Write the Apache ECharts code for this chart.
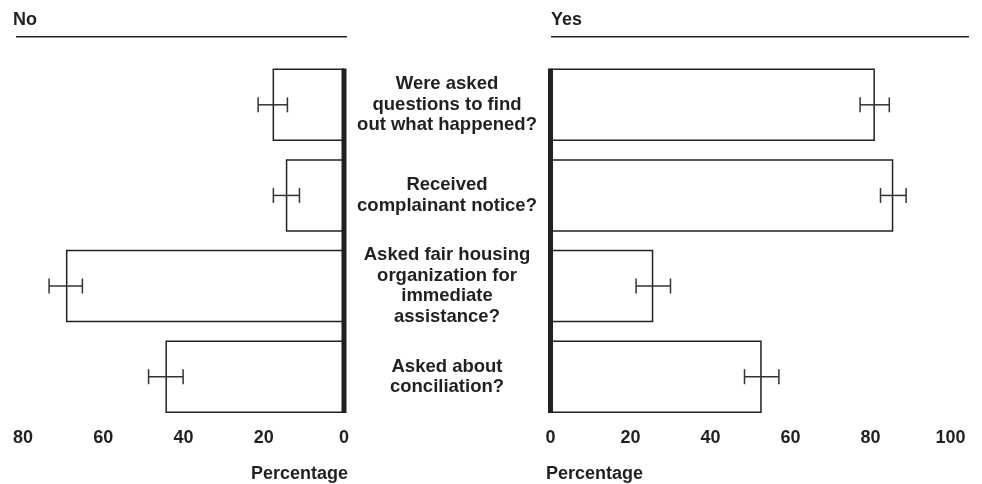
<!DOCTYPE html>
<html>
<head>
<meta charset="utf-8">
<script src="https://cdn.jsdelivr.net/npm/echarts@6/dist/echarts.min.js"></script>
<style>html,body{margin:0;padding:0;background:#fff}#c{width:982px;height:484px}</style>
</head>
<body>
<div id="c"></div>
<script>
var categories = [
  'Were asked\nquestions to find\nout what happened?',
  'Received\ncomplainant notice?',
  'Asked fair housing\norganization for\nimmediate\nassistance?',
  'Asked about\nconciliation?'
];
var noValues = [17.8, 14.5, 69.3, 44.5];
var noLow = [14.1, 11.1, 65.2, 40.1];
var noHigh = [21.4, 17.6, 73.5, 48.7];
var yesValues = [81.1, 85.7, 25.7, 52.8];
var yesLow = [77.4, 82.5, 21.4, 48.5];
var yesHigh = [84.7, 88.9, 30.0, 57.1];
var noTicks = [0, 20, 40, 60, 80];
var yesTicks = [0, 20, 40, 60, 80, 100];

var FONT = '"Liberation Sans", Arial, Helvetica, sans-serif';
var INK = '#231f20';

function errData(lo, hi) {
  return lo.map(function (l, i) { return [i, l, hi[i]]; });
}
function errRender(params, api) {
  var c = api.value(0);
  var a = api.coord([api.value(1), c]);
  var b = api.coord([api.value(2), c]);
  var h = 7.5;
  var st = { stroke: '#333', lineWidth: 1.5 };
  return { type: 'group', children: [
    { type: 'line', shape: { x1: a[0], y1: a[1], x2: b[0], y2: b[1] }, style: st },
    { type: 'line', shape: { x1: a[0], y1: a[1] - h, x2: a[0], y2: a[1] + h }, style: st },
    { type: 'line', shape: { x1: b[0], y1: b[1] - h, x2: b[0], y2: b[1] + h }, style: st }
  ]};
}
function baseRender(params, api) {
  var n = categories.length;
  var p0 = api.coord([0, 0]);
  var p1 = api.coord([0, n - 1]);
  var band = api.size([0, 1])[1];
  var half = band * 0.8 / 2;
  return { type: 'line', shape: { x1: p0[0], y1: p0[1] - half, x2: p1[0], y2: p1[1] + half },
    style: { stroke: INK, lineWidth: 5 } };
}

var chart = echarts.init(document.getElementById('c'), null, { renderer: 'canvas' });
var tickLabel = { fontFamily: FONT, fontSize: 18, fontWeight: 'bold', color: INK, margin: 7 };
chart.setOption({
  animation: false,
  textStyle: { fontFamily: FONT },
  title: [
    { text: 'No', left: 13, top: 11, textStyle: { fontFamily: FONT, fontSize: 18, fontWeight: 'bold', color: INK }, padding: 0 },
    { text: 'Yes', left: 551, top: 11, textStyle: { fontFamily: FONT, fontSize: 18, fontWeight: 'bold', color: INK }, padding: 0 }
  ],
  graphic: [
    { type: 'line', shape: { x1: 16, y1: 36.7, x2: 347, y2: 36.7 }, style: { stroke: INK, lineWidth: 1.5 } },
    { type: 'line', shape: { x1: 551, y1: 36.7, x2: 969, y2: 36.7 }, style: { stroke: INK, lineWidth: 1.5 } }
  ],
  grid: [
    { left: 23, right: 982 - 344, top: 59.5, bottom: 62 },
    { left: 550.5, right: 982 - 950.5, top: 59.5, bottom: 62 }
  ],
  xAxis: [
    { type: 'value', gridIndex: 0, min: 0, max: 80, interval: 20, inverse: true,
      axisLine: { show: false }, axisTick: { show: false }, splitLine: { show: false },
      axisLabel: tickLabel,
      name: 'Percentage', nameLocation: 'start', nameGap: 4, nameMoveOverlap: false,
      nameTextStyle: { fontFamily: FONT, fontSize: 18, fontWeight: 'bold', color: INK, align: 'right', verticalAlign: 'top', padding: [43, 0, 0, 0] } },
    { type: 'value', gridIndex: 1, min: 0, max: 100, interval: 20,
      axisLine: { show: false }, axisTick: { show: false }, splitLine: { show: false },
      axisLabel: tickLabel,
      name: 'Percentage', nameLocation: 'start', nameGap: 4.5, nameMoveOverlap: false,
      nameTextStyle: { fontFamily: FONT, fontSize: 18, fontWeight: 'bold', color: INK, align: 'left', verticalAlign: 'top', padding: [43, 0, 0, 0] } }
  ],
  yAxis: [
    { type: 'category', gridIndex: 0, data: categories, inverse: true, position: 'right',
      axisLine: { show: false }, axisTick: { show: false }, axisLabel: { show: false } },
    { type: 'category', gridIndex: 1, data: categories, inverse: true, position: 'left',
      axisLine: { show: false }, axisTick: { show: false },
      axisLabel: { show: true, margin: 103.5, align: 'center', fontFamily: FONT, fontSize: 18.5, fontWeight: 'bold', color: INK, lineHeight: 20.5, padding: [3, 0, 0, 0] } }
  ],
  series: [
    { type: 'bar', xAxisIndex: 0, yAxisIndex: 0, data: noValues, barCategoryGap: '20%',
      itemStyle: { color: '#fff', borderColor: '#222', borderWidth: 1.5 } },
    { type: 'bar', xAxisIndex: 1, yAxisIndex: 1, data: yesValues, barCategoryGap: '20%',
      itemStyle: { color: '#fff', borderColor: '#222', borderWidth: 1.5 } },
    { type: 'custom', xAxisIndex: 0, yAxisIndex: 0, data: errData(noLow, noHigh), encode: { x: [1, 2], y: 0 }, renderItem: errRender, z: 3 },
    { type: 'custom', xAxisIndex: 1, yAxisIndex: 1, data: errData(yesLow, yesHigh), encode: { x: [1, 2], y: 0 }, renderItem: errRender, z: 3 },
    { type: 'custom', xAxisIndex: 0, yAxisIndex: 0, data: [[0, 0]], renderItem: baseRender, z: 4, encode: { x: 0, y: 1 } },
    { type: 'custom', xAxisIndex: 1, yAxisIndex: 1, data: [[0, 0]], renderItem: baseRender, z: 4, encode: { x: 0, y: 1 } }
  ]
});
</script>
</body>
</html>
